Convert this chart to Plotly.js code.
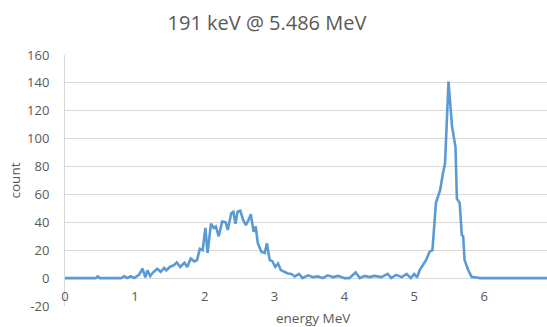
<!DOCTYPE html>
<html>
<head>
<meta charset="utf-8">
<script src="https://cdn.plot.ly/plotly-3.0.1.min.js"></script>
<style>html,body{margin:0;padding:0;background:#fff}#chart{width:547px;height:327px}</style>
</head>
<body>
<div id="chart"></div>
<script>
// energy (MeV) and counts
const energy = [0, 0.44, 0.47, 0.50, 0.80, 0.85, 0.89, 0.94, 0.99, 1.06, 1.11, 1.15, 1.18, 1.22, 1.26, 1.32, 1.37, 1.42, 1.45, 1.50, 1.56, 1.60, 1.65, 1.71, 1.75, 1.80, 1.85, 1.89, 1.93, 1.97, 2.01, 2.04, 2.09, 2.13, 2.16, 2.20, 2.25, 2.30, 2.33, 2.38, 2.41, 2.44, 2.47, 2.51, 2.55, 2.59, 2.64, 2.66, 2.70, 2.73, 2.76, 2.81, 2.86, 2.89, 2.93, 2.97, 3.01, 3.05, 3.09, 3.14, 3.19, 3.24, 3.29, 3.35, 3.40, 3.48, 3.55, 3.62, 3.69, 3.76, 3.84, 3.91, 4.00, 4.07, 4.16, 4.22, 4.29, 4.36, 4.43, 4.53, 4.62, 4.67, 4.74, 4.82, 4.89, 4.95, 5.00, 5.04, 5.08, 5.12, 5.17, 5.22, 5.26, 5.31, 5.37, 5.41, 5.44, 5.49, 5.54, 5.59, 5.61, 5.65, 5.68, 5.70, 5.72, 5.77, 5.82, 5.89, 5.94, 6.95];
const counts = [0, 0, 1.2, 0, 0, 1.3, 0, 1.3, 0, 2.4, 6.7, 0.5, 5.5, 1.5, 4, 6.7, 4.5, 7.3, 5.5, 8, 9.3, 11.3, 8, 11, 8, 14, 12, 13, 21, 20, 36, 18, 39, 36, 37, 30, 40.5, 40, 34.5, 46.5, 47.6, 39, 47.6, 48.3, 41.7, 38, 43, 45.8, 33.3, 37, 25, 19, 18, 25, 13, 12, 8, 10.5, 5.7, 4.6, 3.3, 3, 1.2, 3, 0, 2, 0.7, 1.2, 0, 2, 0.7, 1.6, 0, 0, 4, 0, 1.6, 0.7, 1.6, 0.7, 3, 0, 2.3, 0.7, 3, 0, 3, 0.5, 6, 9, 13, 19, 20, 54, 63, 75, 82, 141, 109, 94, 57, 54, 31, 30, 13, 6, 1, 0.5, 0, 0];
const xTicks = [0, 1, 2, 3, 4, 5, 6];
const yTicks = [-20, 0, 20, 40, 60, 80, 100, 120, 140, 160];
const chartTitle = '191 keV @ 5.486 MeV';
const xTitle = 'energy MeV';
const yTitle = 'count';

const font = 'Open Sans, Liberation Sans, sans-serif';
const grey = '#595959';
const grid = '#D9D9D9';

const trace = {
  x: energy, y: counts, type: 'scatter', mode: 'lines',
  line: {color: '#5B9BD5', width: 2.6}, hoverinfo: 'x+y'
};

const layout = {
  width: 547, height: 327,
  margin: {l: 65, r: 0, t: 55, b: 21},
  paper_bgcolor: '#fff', plot_bgcolor: '#fff',
  showlegend: false,
  font: {family: font, color: grey, size: 13},
  title: {text: chartTitle, font: {family: font, size: 20, color: grey},
          x: 267/547, xref: 'container', xanchor: 'center',
          y: 1 - 23/327, yref: 'container', yanchor: 'middle'},
  xaxis: {
    range: [0, 6.9], tickvals: xTicks, ticktext: xTicks.map(String),
    showgrid: false, zeroline: false, showline: false, ticks: '',
    anchor: 'free', position: 20/180, ticklabelstandoff: 9,
    tickfont: {family: font, size: 13, color: grey},
    fixedrange: true
  },
  yaxis: {
    range: [-20, 160], tickvals: yTicks, ticktext: yTicks.map(String),
    showgrid: true, gridcolor: grid, gridwidth: 1,
    zeroline: true, zerolinecolor: grid, zerolinewidth: 1,
    showline: true, linecolor: grid, linewidth: 1,
    ticks: '', ticklabelstandoff: 12,
    tickfont: {family: font, size: 13, color: grey},
    title: {text: yTitle, font: {family: font, size: 13.5, color: grey}, standoff: 3},
    automargin: false, fixedrange: true
  },
  annotations: [{
    text: xTitle, xref: 'paper', yref: 'paper',
    x: (313 - 65) / (547 - 65), y: -(318 - 306) / (306 - 55),
    xanchor: 'center', yanchor: 'middle', showarrow: false,
    font: {family: font, size: 13.5, color: grey}
  }]
};

Plotly.newPlot('chart', [trace], layout, {displayModeBar: false, staticPlot: true});
</script>
</body>
</html>
